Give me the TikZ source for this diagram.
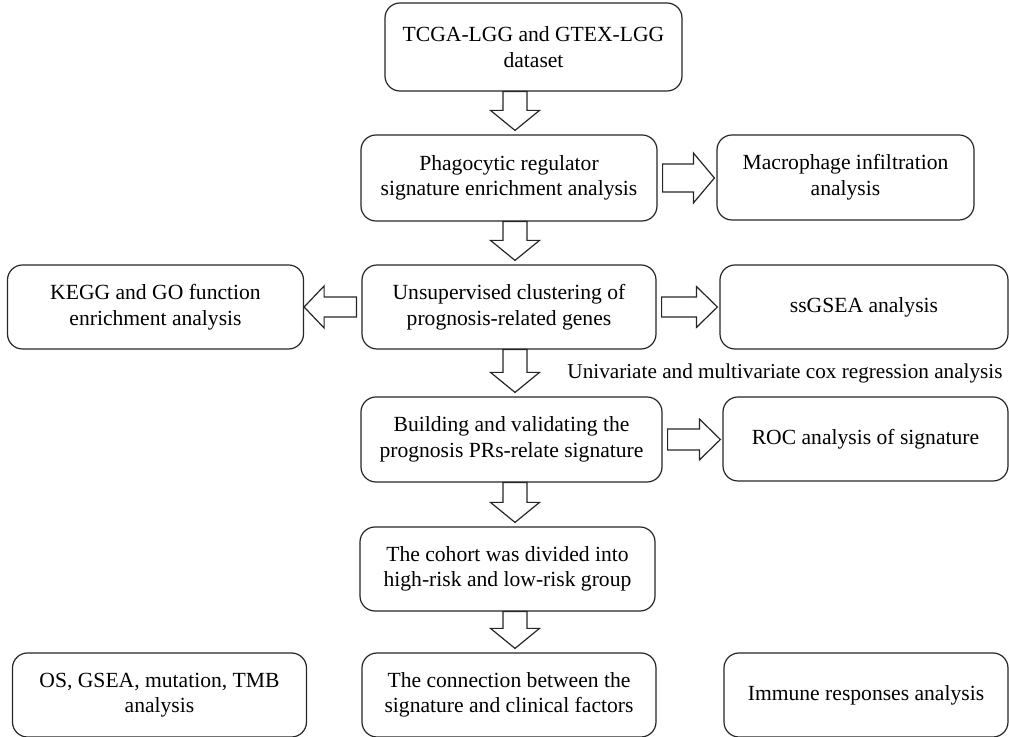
\documentclass[tikz,border=0pt]{standalone}
\usepackage{fontspec}
\setmainfont{Liberation Serif}
\usetikzlibrary{positioning, calc}

% hollow block arrows between boxes
\newcommand{\downblock}[2]{%
  \draw[fat] let \p1=(#1.south), \p2=(#2.north), \p3=(spine) in
    (\x3-6pt,\y1) -- (\x3-6pt,\y2+12pt) -- (\x3-12.25pt,\y2+12pt) -- (\x3,\y2+2pt)
    -- (\x3+12.25pt,\y2+12pt) -- (\x3+6pt,\y2+12pt) -- (\x3+6pt,\y1) -- cycle;}
\newcommand{\rightblock}[5][]{%
  \draw[fat,#1] let \p1=(#2.east), \p2=(#3.west) in
    (\x1+2.5pt,\y1+#4) -- (\x2-11.5pt,\y1+#4) -- (\x2-11.5pt,\y1+#5) -- (\x2-1pt,\y1)
    -- (\x2-11.5pt,\y1-#5) -- (\x2-11.5pt,\y1-#4) -- (\x1+2.5pt,\y1-#4) -- cycle;}
\newcommand{\leftblock}[4]{%
  \draw[fat] let \p1=(#1.west), \p2=(#2.east) in
    (\x1-2.5pt,\y1+#3) -- (\x2+10pt,\y1+#3) -- (\x2+10pt,\y1+#4) -- (\x2,\y1)
    -- (\x2+10pt,\y1-#4) -- (\x2+10pt,\y1-#3) -- (\x1-2.5pt,\y1-#3) -- cycle;}

\begin{document}
\begin{tikzpicture}[x=0.5pt, y=-0.5pt, line width=0.6pt,
  box/.style={rectangle, rounded corners=7.5pt, draw=black!85, fill=white,
    minimum width=147pt, minimum height=42pt, inner sep=2pt, align=center,
    font=\fontsize{10.8}{12.8}\selectfont},
  note/.style={font=\fontsize{10.6}{12.6}\selectfont},
  fat/.style={draw=black!85, line width=0.6pt, line join=miter}]
\useasboundingbox (0,0) rectangle (1009,737);
\coordinate (spine) at (515,0);
% main column
\node[box, minimum width=148.5pt, minimum height=44pt] (data) at (533.5,47) {TCGA-LGG and GTEX-LGG\\dataset};
\node[box, minimum width=148pt, minimum height=43pt] (phag) at (509,178) {Phagocytic regulator\\signature enrichment analysis};
\node[box] (unsup) at (509,307) {Unsupervised clustering of\\prognosis-related genes};
\node[box, minimum width=150.5pt, minimum height=42.5pt] (build) at (511.5,439.5) {Building and validating the\\prognosis PRs-relate signature};
\node[box, minimum width=147.5pt] (cohort) at (507.5,569) {The cohort was divided into\\high-risk and low-risk group};
\node[box] (conn) at (509,695) {The connection between the\\signature and clinical factors};
% side boxes
\node[box, minimum width=128.5pt, minimum height=42.5pt] (macro) at (845.5,177.5) {Macrophage infiltration\\analysis};
\node[box, minimum width=148pt] (kegg) at (155.5,307) {KEGG and GO function\\enrichment analysis};
\node[box, minimum width=144pt] (ssgsea) at (864,307) {ssGSEA analysis};
\node[box, minimum width=142.5pt] (roc) at (865.5,439) {ROC analysis of signature};
\node[box] (os) at (159.5,695) {OS, GSEA, mutation, TMB\\analysis};
\node[box, minimum width=142pt] (immune) at (866,695) {Immune responses analysis};
\node[note] (cox) at (785,373) {Univariate and multivariate cox regression analysis};
% arrows
\downblock{data}{phag}
\downblock{phag}{unsup}
\downblock{unsup}{build}
\downblock{build}{cohort}
\downblock{cohort}{conn}
\rightblock[yshift=-3.5pt]{phag}{macro}{7pt}{12.5pt}
\rightblock{unsup}{ssgsea}{5pt}{10.25pt}
\rightblock[yshift=-1pt]{build}{roc}{5.25pt}{10.25pt}
\leftblock{unsup}{kegg}{5pt}{10.5pt}
\end{tikzpicture}
\end{document}
